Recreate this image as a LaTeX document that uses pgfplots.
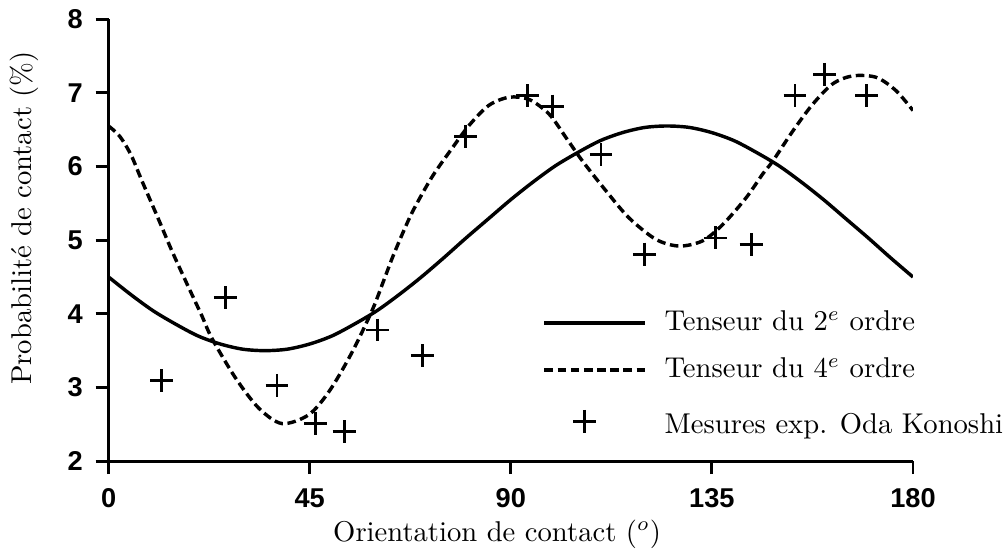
\documentclass[border=0pt]{standalone}
\usepackage{fontspec}
\usepackage{pgfplots}
\pgfplotsset{compat=1.18}
\newfontfamily\tickfont{Liberation Sans}
\pgfplotsset{
  leglineA/.style={legend image code/.code={\draw[##1] (0pt,0pt) -- (35pt,0pt); \path[draw=none] (0pt,0pt) -- (41pt,0pt);}},
  leglineB/.style={legend image code/.code={\draw[##1] (0pt,0pt) -- (36pt,0pt); \path[draw=none] (0pt,0pt) -- (41pt,0pt);}},
  legmark/.style={legend image code/.code={\draw[##1, draw=none] plot coordinates {(14pt,0pt)}; \path[draw=none] (0pt,0pt) -- (41pt,0pt);}},
}

\pgfplotstableread{
x y
0 4.50
5 4.26
10 4.04
15 3.86
20 3.70
25 3.59
30 3.52
35 3.50
40 3.52
45 3.59
50 3.70
55 3.86
60 4.04
65 4.26
70 4.50
75 4.76
80 5.03
85 5.29
90 5.55
95 5.79
100 6.01
105 6.19
110 6.35
115 6.46
120 6.53
125 6.55
130 6.53
135 6.46
140 6.35
145 6.19
150 6.01
155 5.79
160 5.55
165 5.29
170 5.03
175 4.76
180 4.50
}\secondorder

\pgfplotstableread{
x y
0 6.55
2.5 6.41
5 6.16
7.5 5.80
11.2 5.28
14.2 4.85
17.9 4.36
20.9 3.97
23.1 3.67
28.4 3.13
33.6 2.72
38.8 2.51
44.8 2.63
49.5 2.96
54.5 3.48
59.0 4.05
61.5 4.44
63.5 4.76
66.0 5.12
68.3 5.42
72.4 5.86
76.9 6.25
80.7 6.56
85.1 6.83
89.6 6.94
94.1 6.91
98.6 6.71
102.5 6.38
106.1 6.07
111.3 5.67
116.5 5.30
122.5 5.01
127.7 4.92
132.9 4.99
137.4 5.21
142.6 5.57
146.4 5.90
148.6 6.07
153.1 6.48
157.5 6.84
162.0 7.12
166.5 7.23
171.8 7.21
176.2 7.03
180 6.76
}\fourthorder

\pgfplotstableread{
x y
11.9 3.09
26.1 4.22
37.7 3.03
46.3 2.51
52.7 2.40
60.1 3.78
70.2 3.43
79.9 6.41
93.7 6.96
99.3 6.82
110.2 6.16
119.9 4.81
135.9 5.03
143.8 4.94
153.6 6.96
160.3 7.25
169.6 6.96
}\mesures

\begin{document}
\begin{tikzpicture}
\begin{axis}[
  scale only axis,
  width=281pt, height=154.4pt,
  xmin=0, xmax=180, ymin=2, ymax=8,
  axis x line=bottom, axis y line=left,
  axis line style={line width=1.1pt, -},
  xtick={0,45,90,135,180},
  ytick={2,3,4,5,6,7,8},
  tick align=outside,
  major tick length=4.5pt,
  tick style={line width=1pt, black},
  /pgf/number format/assume math mode=true,
  tick label style={font=\tickfont\bfseries\fontsize{9.5}{10}\selectfont},
  xticklabel style={yshift=-1.5pt},
  yticklabel style={xshift=-1pt},
  xlabel={Orientation de contact ($^o$)},
  ylabel={Probabilité de contact (\%)},
  every axis x label/.style={at={([yshift=-25.5pt]axis description cs:0.483,0)}, anchor=center},
  every axis y label/.style={at={([xshift=-29.6pt]axis description cs:0,0.55)}, anchor=center, rotate=90},
  legend style={draw=none, fill=none, at={(0.539,0.348)}, anchor=north west,
    inner sep=0pt, row sep=6pt, nodes={inner sep=1pt}},
  legend cell align=left,
]
\addplot[black, line width=1.2pt, smooth, leglineA]
  table[x=x,y=y] {\secondorder};
\addlegendentry{Tenseur du 2$^e$ ordre}
\addplot[black, line width=1.2pt, smooth, dash pattern=on 3pt off 1.6pt, leglineB]
  table[x=x,y=y] {\fourthorder};
\addlegendentry{Tenseur du 4$^e$ ordre}
\addplot[black, only marks, mark=+, mark size=4pt, mark options={line width=1pt}, legmark]
  table[x=x,y=y] {\mesures};
\addlegendentry{\rule{0pt}{10pt}Mesures exp. Oda Konoshi}
\end{axis}
\end{tikzpicture}
\end{document}
